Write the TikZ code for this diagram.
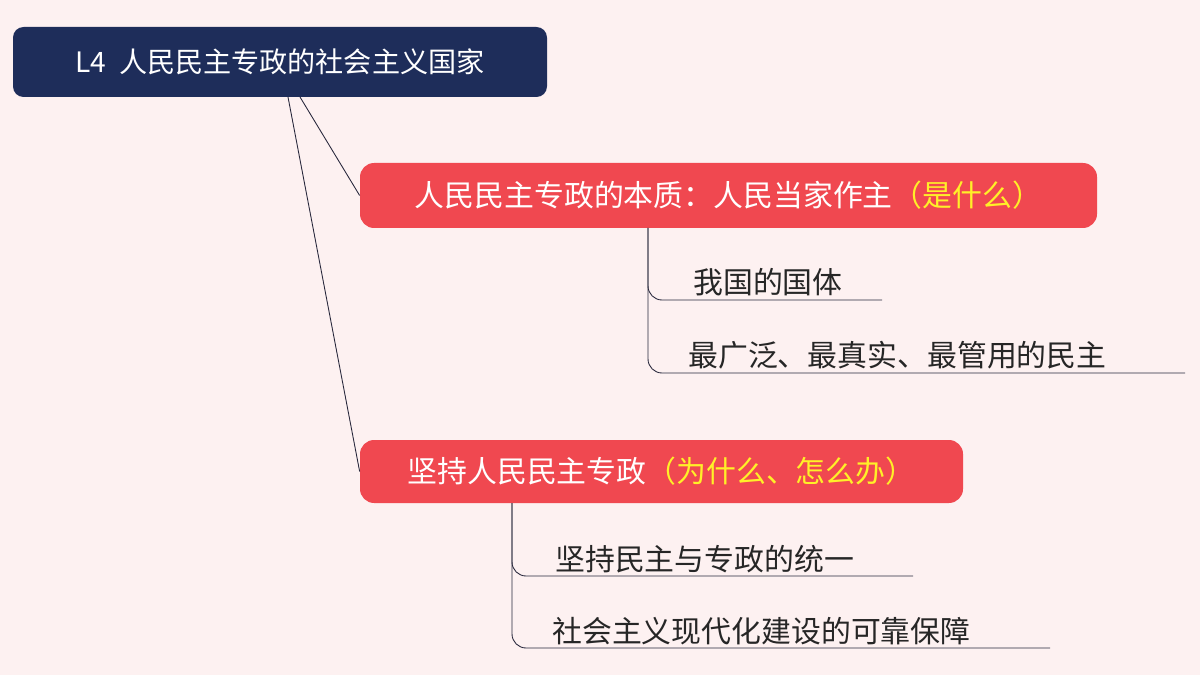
\documentclass[tikz,border=0pt]{standalone}
\usepackage{fontspec}
\setmainfont{Noto Sans CJK SC}
\definecolor{bgpink}{RGB}{253,241,241}
\definecolor{rootblue}{RGB}{30,45,90}
\definecolor{boxred}{RGB}{240,72,80}
\definecolor{markyellow}{RGB}{255,240,40}
\definecolor{leafline}{RGB}{40,40,60}
\begin{document}
\begin{tikzpicture}[
        x=0.02cm, y=-0.02cm,
        root/.style={fill=rootblue, rounded corners=6pt, text=white,
            font=\fontsize{16}{19}\selectfont, inner sep=0pt},
        topic/.style={fill=boxred, rounded corners=8pt, text=white,
            font=\fontsize{17}{20}\selectfont, inner sep=0pt},
        leaf/.style={anchor=base west, text=black!85, inner sep=0pt,
            font=\fontsize{17}{20}\selectfont},
        link/.style={leafline, line width=0.5pt}
    ]
    \fill[bgpink] (0,0) rectangle (1200,675);

    % root and topics
    \node[root, minimum width=534*0.02cm, minimum height=70*0.02cm] (root) at (280,62)
        {L4\ \ 人民民主专政的社会主义国家};
    \node[topic, minimum width=737*0.02cm, minimum height=65*0.02cm] (essence) at (728.5,195.5)
        {人民民主专政的本质：人民当家作主\textcolor{markyellow}{（是什么）}};
    \node[topic, minimum width=603*0.02cm, minimum height=63*0.02cm] (keep) at (661.5,471.5)
        {坚持人民民主专政\textcolor{markyellow}{（为什么、怎么办）}};

    \coordinate (r1) at (300,97);
    \coordinate (r2) at (288,97);
    \draw[link] (r1) -- (essence.west);
    \draw[link] (r2) -- (keep.west);

    % leaves
    \node[leaf] (guoti) at (693,294) {我国的国体};
    \node[leaf] (minzhu) at (688,367) {最广泛、最真实、最管用的民主};
    \node[leaf] (tongyi) at (555,570) {坚持民主与专政的统一};
    \node[leaf] (baozhang) at (552,642) {社会主义现代化建设的可靠保障};

    \coordinate (e1) at (648,228);
    \coordinate (k1) at (512,503);
    \draw[link, rounded corners=8pt] (e1) |- (882,300);
    \draw[link, rounded corners=8pt] (e1) |- (1185,373);
    \draw[link, rounded corners=8pt] (k1) |- (913,576);
    \draw[link, rounded corners=8pt] (k1) |- (1050,648);
\end{tikzpicture}
\end{document}
